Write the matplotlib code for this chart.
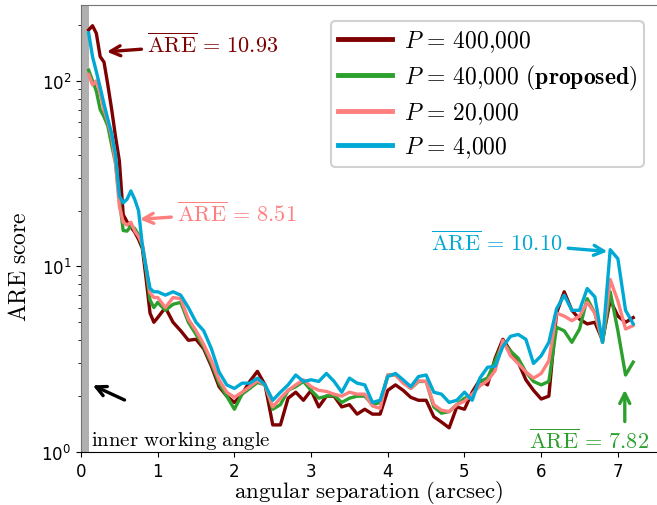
import numpy as np
import matplotlib
matplotlib.use("Agg")
import matplotlib.pyplot as plt

plt.rcParams['mathtext.fontset'] = 'cm'

# angular separation samples (arcsec)
sep = [0.1, 0.15, 0.2, 0.25, 0.3, 0.35, 0.4, 0.45, 0.5, 0.55, 0.6, 0.65, 0.7, 0.75, 0.8, 0.85, 0.9, 0.95,
       1.0, 1.1, 1.2, 1.3, 1.4, 1.5, 1.6, 1.7, 1.8, 1.9,
       2.0, 2.1, 2.2, 2.3, 2.4, 2.5, 2.6, 2.7, 2.8, 2.9,
       3.0, 3.1, 3.2, 3.3, 3.4, 3.5, 3.6, 3.7, 3.8, 3.9,
       4.0, 4.1, 4.2, 4.3, 4.4, 4.5, 4.6, 4.7, 4.8, 4.9,
       5.0, 5.1, 5.2, 5.3, 5.4, 5.5, 5.6, 5.7, 5.8, 5.9,
       6.0, 6.1, 6.2, 6.3, 6.4, 6.5, 6.6, 6.7, 6.8, 6.9,
       7.0, 7.1, 7.2]

are_400k = [188, 198, 180, 135, 126, 95, 70, 50, 37, 19, 17.4, 16.3, 15.3, 14, 12.5, 8.5, 5.6, 5.0,
            5.3, 6.0, 5.0, 4.5, 4.0, 4.05, 3.6, 2.9, 2.25, 2.0,
            1.85, 2.05, 2.4, 2.72, 2.3, 1.4, 1.4, 1.95, 2.1, 1.9,
            2.15, 1.75, 2.0, 2.0, 1.75, 1.8, 1.6, 1.7, 1.6, 1.6,
            2.15, 2.3, 2.15, 1.97, 1.9, 1.9, 1.55, 1.45, 1.35, 1.75,
            1.7, 2.1, 2.45, 2.3, 3.2, 4.05, 3.5, 3.05, 2.45, 2.15,
            1.93, 2.0, 5.6, 7.3, 5.8, 5.2, 4.9, 5.0, 4.0, 6.6,
            5.4, 5.0, 5.3]

are_40k = [114, 100, 88, 70, 64, 57, 45, 36, 23, 15.6, 15.5, 16.5, 16.0, 14.8, 12.8, 9.5, 6.6, 6.0,
           6.4, 5.8, 6.25, 6.4, 5.0, 4.3, 3.7, 3.0, 2.35, 2.0,
           1.7, 2.05, 2.2, 2.37, 2.3, 1.7, 1.8, 2.15, 2.25, 2.4,
           2.15, 1.95, 2.0, 2.02, 1.85, 1.95, 2.0, 2.0, 1.8, 1.85,
           2.6, 2.6, 2.4, 2.2, 2.4, 2.4, 1.75, 1.62, 1.65, 1.8,
           1.95, 2.0, 2.4, 2.5, 3.1, 3.9, 3.5, 3.2, 2.7, 2.4,
           2.3, 2.4, 4.7, 4.5, 3.9, 4.6, 6.7, 5.6, 3.9, 7.3,
           4.5, 2.6, 3.05]

are_20k = [108, 95, 100, 86, 70, 60, 50, 36, 21, 17.3, 16.7, 17.3, 15.5, 14.5, 13.2, 9.8, 7.2, 6.8,
           6.8, 6.0, 6.8, 6.7, 5.2, 4.5, 3.8, 3.1, 2.45, 2.1,
           1.97, 2.1, 2.25, 2.42, 2.3, 1.75, 1.95, 2.15, 2.3, 2.45,
           2.25, 2.15, 2.12, 2.05, 2.0, 2.1, 2.05, 2.05, 1.77, 1.72,
           2.6, 2.6, 2.35, 2.2, 2.42, 2.4, 1.8, 1.68, 1.65, 1.8,
           1.88, 2.05, 2.27, 2.42, 2.75, 4.0, 3.3, 3.0, 2.7, 2.5,
           2.65, 3.1, 5.6, 5.4, 5.1, 5.4, 6.4, 5.6, 4.0, 8.5,
           6.5, 4.6, 4.8]

are_4k = [181, 135, 112, 92, 75, 62, 52, 40, 24, 22, 23, 25.5, 23, 20, 13, 9.8, 7.6, 7.3,
          7.3, 7.0, 7.3, 7.0, 6.0, 5.0, 4.5, 3.6, 2.7, 2.3,
          2.2, 2.35, 2.35, 2.5, 2.3, 1.9, 2.1, 2.3, 2.6, 2.4,
          2.45, 2.4, 2.65, 2.4, 2.1, 2.5, 2.35, 2.3, 1.85, 1.9,
          2.55, 2.65, 2.45, 2.25, 2.55, 2.6, 2.1, 2.05, 1.85, 1.9,
          2.1, 1.9, 2.5, 2.86, 2.9, 3.7, 4.2, 4.3, 4.05, 3.0,
          3.3, 3.9, 5.9, 7.0, 5.8, 5.8, 7.6, 6.85, 3.9, 12.3,
          11.0, 5.8, 4.9]

labels = [r'$P\,=\,400{,}000$',
          r'$P\,=\,40{,}000$ $\mathbf{(proposed)}$',
          r'$P\,=\,20{,}000$',
          r'$P\,=\,4{,}000$']
colors = ['#7f0000', '#2ca02c', '#ff7f7f', '#00a9d4']
mean_are = ['10.93', '7.82', '8.51', '10.10']

fig = plt.figure(figsize=(6.57, 5.06), dpi=100)
ax = fig.add_axes([0.1233, 0.1047, 0.8767, 0.8834])

# inner working angle band
ax.axvspan(0, 0.1, color='#b0b0b0', lw=0, zorder=1)

for vals, lab, c in zip([are_400k, are_40k, are_20k, are_4k], labels, colors):
    ax.plot(sep, vals, color=c, lw=2.4, label=lab, zorder=3)

ax.set_yscale('log')
ax.set_xlim(0, 7.51)
ax.set_ylim(1, 256)
ax.set_xticks([0, 1, 2, 3, 4, 5, 6, 7])
ax.tick_params(labelsize=12)
ax.spines['right'].set_visible(False)
ax.spines['top'].set_color('0.45')
ax.spines['left'].set_color('0.45')

ax.set_xlabel(r'$\mathrm{angular\ separation\ (arcsec)}$', fontsize=16.5, labelpad=-1)
ax.set_ylabel(r'$\mathrm{ARE\ score}$', fontsize=17)
ax.yaxis.set_label_coords(-0.088, 0.416)


def are_text(v):
    return r'$\overline{\mathrm{ARE}}\,=\,%s$' % v


arrow = dict(arrowstyle='->', lw=2.4, mutation_scale=18)

ax.annotate(are_text(mean_are[0]), xy=(0.30, 143), xytext=(0.86, 158),
            color=colors[0], fontsize=16, va='center', ha='left',
            arrowprops=dict(arrow, color=colors[0]))
ax.annotate(are_text(mean_are[2]), xy=(0.73, 17.9), xytext=(1.25, 19.5),
            color=colors[2], fontsize=16, va='center', ha='left',
            arrowprops=dict(arrow, color=colors[2]))
ax.annotate(are_text(mean_are[3]), xy=(6.90, 12.0), xytext=(6.28, 13.5),
            color=colors[3], fontsize=16, va='center', ha='right',
            arrowprops=dict(arrow, color=colors[3]))
ax.annotate('', xy=(7.09, 2.24), xytext=(7.09, 1.41),
            arrowprops=dict(arrow, color=colors[1]))
ax.text(6.63, 1.17, are_text(mean_are[1]), color=colors[1],
        fontsize=16, ha='center', va='center')

ax.annotate('', xy=(0.12, 2.32), xytext=(0.6, 1.88),
            arrowprops=dict(arrow, color='black'))
ax.text(0.13, 1.16, r'$\mathrm{inner\ working\ angle}$', fontsize=15, ha='left', va='center')

leg = ax.legend(loc='upper right', bbox_to_anchor=(0.998, 0.99), fontsize=17,
                handlelength=2.3, labelspacing=0.35, borderpad=0.3, handletextpad=0.5,
                fancybox=True, framealpha=1)
leg.get_frame().set_edgecolor('0.82')
leg.get_frame().set_linewidth(1.5)
for line in leg.get_lines():
    line.set_linewidth(3.5)

fig.savefig('out.png', dpi=100)
